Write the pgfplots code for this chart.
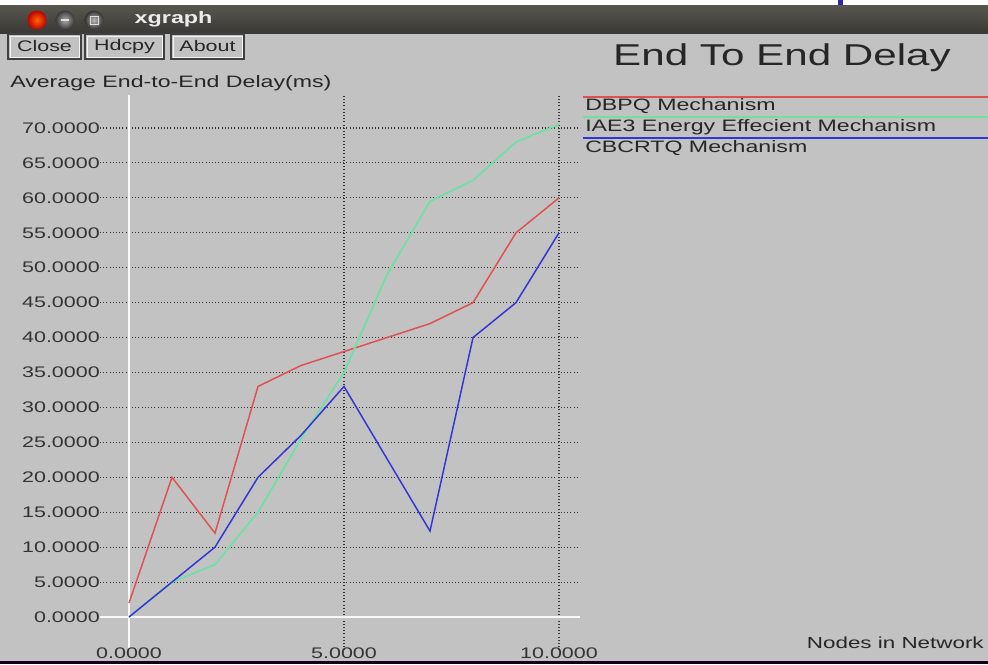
\documentclass[border=0pt]{standalone}
\usepackage{fontspec}
\setmainfont{Liberation Sans}[FakeStretch=1.4]
\usepackage{pgfplots}
\pgfplotsset{compat=1.18}

\definecolor{bg}{HTML}{C2C2C2}
\definecolor{barTop}{HTML}{57564F}
\definecolor{barBot}{HTML}{3A3935}
\definecolor{dbpq}{HTML}{E05050}
\definecolor{iae}{HTML}{6EE0A6}
\definecolor{cbc}{HTML}{3434D6}
\definecolor{gridc}{HTML}{383838}

\newcommand{\smallfont}{\fontsize{11.5}{13}\selectfont}
\newcommand{\labfont}{\fontsize{12.4}{14}\selectfont}

\begin{document}
\begin{tikzpicture}
\useasboundingbox (0,0) rectangle (741pt,-498pt);
\fill[bg] (0,0) rectangle (741pt,-498pt);

\begin{scope}[x=0.75pt,y=-0.75pt]
  % window title bar
  \fill[white] (0,0) rectangle (988,5);
  \shade[top color=barTop, bottom color=barBot] (0,5) rectangle (988,33);
  \fill[cbc!80!black] (838,0) rectangle (843,5);
  \shade[inner color=orange!80!red, outer color=red!75!black] (37,20) circle (9.5);
  \shade[inner color=gray!65, outer color=gray!45!black] (65,20) circle (9.5);
  \shade[inner color=gray!55, outer color=gray!40!black] (94,20) circle (9.5);
  \draw[gray!25, line width=0.6pt] (90,16) rectangle (98,24);
  \draw[gray!25, line width=0.8pt] (61,20) -- (69,20);
  \node[anchor=west, text=white!85!gray, font=\fontsize{12.5}{14}\selectfont\bfseries] at (130,19) {xgraph};
  % buttons
  \foreach \a/\b/\t in {8/81/Close, 85/164/Hdcpy, 171/244/About}{
    \draw[black!75, line width=0.8pt] (\a,34) rectangle (\b,59);
    \draw[white!80!bg, line width=0.6pt] (\a+2,36) rectangle (\b-2,57);
    \node[font=\smallfont, text=black!85] at ({(\a+\b)/2},46.5) {\t};
  }
  % axis caption and title
  \node[anchor=base west, inner sep=0pt, font=\labfont, text=black!85] at (10,87) {Average End-to-End Delay(ms)};
  \node[anchor=base, inner sep=0pt, font=\fontsize{22.6}{26}\selectfont, text=black!85] at (782,65) {End To End Delay};
  % legend
  \draw[dbpq, line width=1.2pt] (583,97) -- (988,97);
  \draw[iae, line width=1.2pt] (583,117) -- (988,117);
  \draw[cbc, line width=1.2pt] (583,138) -- (988,138);
  \node[anchor=base west, inner sep=0pt, font=\labfont, text=black!85] at (585,110) {DBPQ Mechanism};
  \node[anchor=base west, inner sep=0pt, font=\labfont, text=black!85] at (585,131) {IAE3 Energy Effecient Mechanism};
  \node[anchor=base west, inner sep=0pt, font=\labfont, text=black!85] at (585,152) {CBCRTQ Mechanism};
  \node[anchor=base east, inner sep=0pt, font=\fontsize{12}{14}\selectfont, text=black!85] at (984,648) {Nodes in Network};
  % bottom strip
  \fill[black!60!violet!40!black] (0,661) rectangle (988,664);
\end{scope}

\begin{axis}[
  scale only axis,
  width=360pt, height=416.25pt,
  at={(75pt,-487.5pt)}, anchor=south west,
  xmin=-0.6744, xmax=10.488,
  ymin=-4.724, ymax=74.72,
  axis line style={draw=none},
  major tick length=0pt,
  xtick={5,10}, ytick={5,10,...,70},
  extra x ticks={0}, extra y ticks={0},
  grid=major,
  major grid style={dotted, line width=0.8pt, gridc},
  extra x tick style={grid=major, major grid style={white!90!bg, solid, line width=1.6pt}},
  extra y tick style={grid=major, major grid style={white!90!bg, solid, line width=1.6pt}},
  ticklabel style={font=\smallfont, text=black!80},
  /pgf/number format/fixed,
  /pgf/number format/fixed zerofill,
  /pgf/number format/precision=4,
  /pgf/number format/assume math mode=true,
  yticklabel style={anchor=east, inner sep=0pt},
  xticklabel style={anchor=base, inner sep=0pt, yshift=-6.5pt},
  clip=false,
]
\addplot[dbpq, line width=1.1pt] coordinates {
  (0,2) (1,20) (2,12) (3,33) (4,36) (5,38) (6,40) (7,42) (8,45) (9,55) (10,60)};
\addplot[iae, line width=1.3pt] coordinates {
  (0,0) (1,5) (2,7.5) (3,15) (4,25.5) (5,35) (6,49) (7,59.5) (8,62.5) (9,68) (10,70.5)};
\addplot[cbc, line width=1.1pt] coordinates {
  (0,0) (1,5) (2,10) (3,20) (4,26) (5,33) (7,12.3) (8,40) (9,45) (10,55)};
\end{axis}
\end{tikzpicture}
\end{document}
